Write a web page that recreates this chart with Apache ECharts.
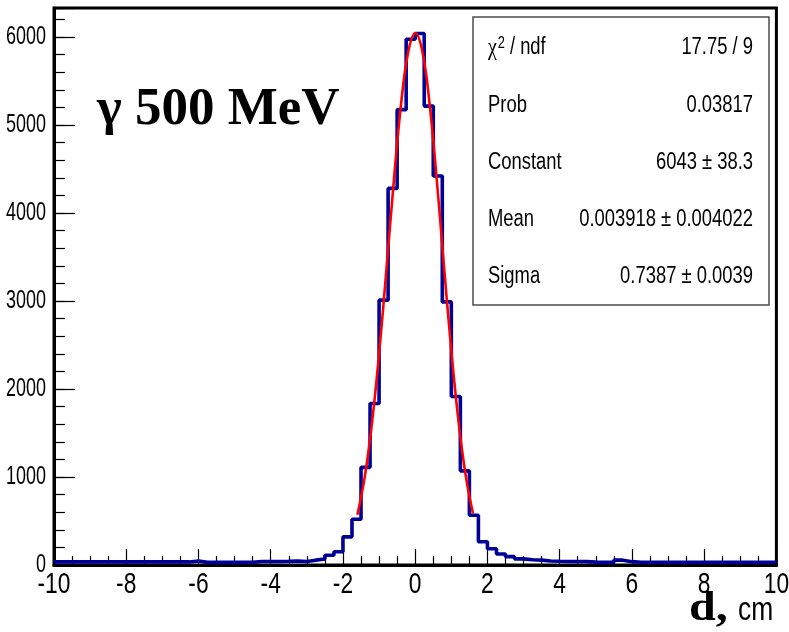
<!DOCTYPE html>
<html>
<head>
<meta charset="utf-8">
<script src="https://cdn.jsdelivr.net/npm/echarts@6/dist/echarts.min.js"></script>
<style>
  html, body { margin: 0; padding: 0; background: #fff; }
  #chart { width: 789px; height: 632px; }
</style>
</head>
<body>
<div id="chart"></div>
<script>
// Histogram of d (cm): 80 bins of 0.25 cm from -10 to 10
const binLow = -10;
const binWidth = 0.25;
const binCounts = [
  35, 35, 35, 35, 35, 35, 35, 35, 35, 35, 35, 35, 35, 35, 35,   // -10 .. -6.5
  45,                                                           // -6.25
  30, 30, 30, 30, 30, 30,                                       // -6.0 .. -4.75
  40, 40, 40, 42, 45, 40,                                       // -4.5 .. -3.25
  55, 68, 110, 150, 320, 520, 1110, 1835,                       // -3.0 .. -1.25
  3010, 4280, 5175, 5975, 6040, 5215, 4420, 2990,               // -1.0 .. 0.75
  1915, 1070, 565, 265, 185, 125, 95, 70,                       // 1.0 .. 2.75
  60, 55, 45, 42, 40, 40, 38, 33, 30, 32, 55, 38,               // 3.0 .. 5.75
  32, 32, 32, 32, 32, 32, 32, 32, 32, 32, 32, 32, 32, 32, 32, 32 // 6.0 .. 9.75
];

// Gaussian fit over [-1.6, 1.6]
const fitX = [-1.6, -1.4, -1.2, -1.0, -0.8, -0.6, -0.4, -0.2, 0.0,
              0.2, 0.4, 0.6, 0.8, 1.0, 1.2, 1.4, 1.6];
const fitY = [572, 993, 1601, 2400, 3342, 4326, 5204, 5817, 6043,
              5834, 5234, 4364, 3381, 2435, 1629, 1013, 585];

// Axis tick labels
const xTickValues = [-10, -8, -6, -4, -2, 0, 2, 4, 6, 8, 10];
const yTickValues = [0, 1000, 2000, 3000, 4000, 5000, 6000];

// Fit statistics box
const statNames = ['{chi|χ}{sup|2}{txt| / ndf}', 'Prob', 'Constant', 'Mean', 'Sigma'];
const statValues = ['17.75 / 9', '0.03817', '6043 ± 38.3', '0.003918 ± 0.004022', '0.7387 ± 0.0039'];

const titleText = 'γ 500 MeV';
const axisTitleMain = 'd,';
const axisTitleUnit = 'cm';

const SANS = "'Liberation Sans', Arial, Helvetica, sans-serif";
const SERIF = "'Liberation Serif', 'Times New Roman', serif";

const histData = binCounts.map((v, i) => [binLow + i * binWidth, v]);
histData.push([binLow + binCounts.length * binWidth, binCounts[binCounts.length - 1]]);
const fitData = fitX.map((x, i) => [x, fitY[i]]);

const yMax = 6330;

const chart = echarts.init(document.getElementById('chart'), null, { renderer: 'canvas' });
chart.setOption({
  animation: false,
  backgroundColor: '#fff',
  grid: {
    left: 54, right: 12.6, top: 8, bottom: 67,
    show: true, borderColor: '#000', borderWidth: 3,
    containLabel: false, outerBoundsMode: 'none'
  },
  xAxis: {
    type: 'value', min: -10, max: 10, interval: 2,
    axisLine: { show: true, onZero: false, lineStyle: { color: '#000', width: 3 } },
    axisTick: { show: true, inside: true, length: 16, lineStyle: { color: '#000', width: 1.2 } },
    minorTick: { show: true, splitNumber: 4, length: 9, lineStyle: { color: '#000', width: 1.2 } },
    splitLine: { show: false },
    axisLabel: { show: false }
  },
  yAxis: [{
    type: 'value', min: 0, max: yMax, interval: 1000, position: 'left',
    axisLine: { show: true, onZero: false, lineStyle: { color: '#000', width: 3 } },
    axisTick: { show: true, inside: true, length: 21, lineStyle: { color: '#000', width: 1.2 } },
    splitLine: { show: false },
    axisLabel: { show: false }
  }, {
    type: 'value', min: 0, max: yMax, interval: 200, position: 'left',
    axisLine: { show: false, onZero: false },
    axisTick: { show: true, inside: true, length: 11, lineStyle: { color: '#000', width: 1.2 } },
    splitLine: { show: false },
    axisLabel: { show: false }
  }],
  series: [{
    name: 'hist', type: 'line', step: 'end', data: histData,
    symbol: 'none', xAxisIndex: 0, yAxisIndex: 0, z: 3,
    lineStyle: { color: '#000099', width: 3.6 }
  }, {
    name: 'fit', type: 'line', data: fitData, smooth: 0.4,
    symbol: 'none', xAxisIndex: 0, yAxisIndex: 0, z: 4,
    lineStyle: { color: '#ff0000', width: 2.6 }
  }]
});

// Condensed text helper: Helvetica-style lettering squeezed horizontally
function label(text, x, y, opts) {
  return {
    type: 'text', z: opts.z || 12, x: x, y: y,
    scaleX: opts.scaleX || 1,
    style: Object.assign({
      text: text, fill: '#000', fontFamily: SANS, fontSize: 23,
      align: 'left', verticalAlign: 'middle'
    }, opts.style || {})
  };
}

const graphics = [];

// tick labels placed through the axes' own scales
xTickValues.forEach(v => {
  const p = chart.convertToPixel({ gridIndex: 0 }, [v, 0]);
  graphics.push(label(String(v), p[0], p[1] + 20, {
    scaleX: 0.76, style: { fontSize: 30, align: 'center' }
  }));
});
yTickValues.forEach(v => {
  const p = chart.convertToPixel({ gridIndex: 0 }, [-10, v]);
  graphics.push(label(String(v), p[0] - 8, p[1], {
    scaleX: 0.72, style: { fontSize: 25, align: 'right' }
  }));
});

// stats box
const boxX = 473, boxY = 17, boxW = 296, boxH = 288;
const rowY0 = 48, rowStep = 57.2;
graphics.push({
  type: 'rect', z: 10,
  shape: { x: boxX, y: boxY, width: boxW, height: boxH },
  style: { fill: '#fff', stroke: '#4d4d4d', lineWidth: 1.5 }
});
statNames.forEach((name, i) => {
  const y = rowY0 + rowStep * i;
  graphics.push(label(name, boxX + 15, y, {
    scaleX: 0.8,
    style: {
      rich: {
        chi: { fontFamily: SERIF, fontSize: 25, fill: '#000' },
        sup: { fontFamily: SANS, fontSize: 16, fill: '#000', padding: [0, 0, 9, 1] },
        txt: { fontFamily: SANS, fontSize: 23, fill: '#000' }
      }
    }
  }));
  graphics.push(label(statValues[i], boxX + 280, y, {
    scaleX: 0.8, style: { align: 'right' }
  }));
});

// title and axis title
graphics.push(label(titleText, 97, 110.5, {
  style: { fontFamily: SERIF, fontWeight: 'bold', fontSize: 53 }
}));
graphics.push(label(axisTitleMain, 689, 609, {
  scaleX: 1.12, style: { fontFamily: SERIF, fontWeight: 'bold', fontSize: 43 }
}));
graphics.push(label(axisTitleUnit, 738, 610.5, {
  scaleX: 0.8, style: { fontSize: 33 }
}));

chart.setOption({ graphic: graphics });
</script>
</body>
</html>
